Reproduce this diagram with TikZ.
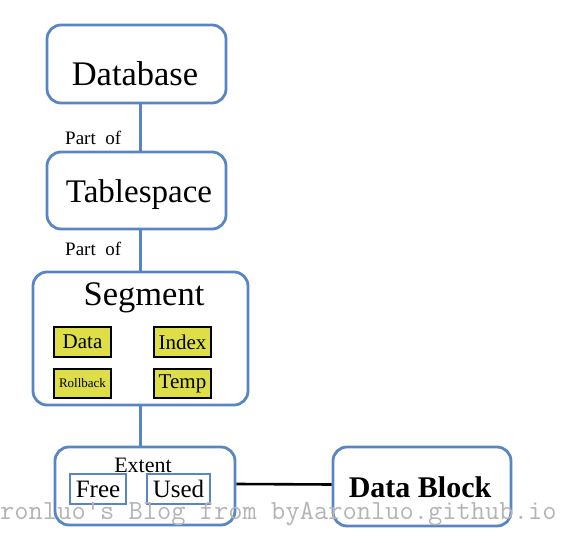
\documentclass[tikz,border=0pt]{standalone}
\usepackage{fontspec}
\setmainfont{Liberation Serif}
\usepackage{xcolor}
\usetikzlibrary{positioning,calc}
\definecolor{boxblue}{RGB}{88,134,196}
\definecolor{tagyellow}{RGB}{222,222,72}
\definecolor{markgray}{RGB}{180,180,180}
\newcommand{\fsz}[1]{\fontsize{#1}{#1}\selectfont}

\begin{document}
\begin{tikzpicture}[x=1pt,y=-1pt,
    box/.style={draw=boxblue, line width=2.8pt, rounded corners=14pt, inner sep=0pt},
    tag/.style={draw=black, fill=tagyellow, line width=2.2pt, inner sep=0pt, minimum width=57pt, minimum height=30pt},
    sub/.style={draw=boxblue, line width=2.8pt, inner sep=0pt, minimum height=30pt},
    link/.style={draw=boxblue, line width=2.4pt}]
    \useasboundingbox (0,0) rectangle (571,543);

    % main boxes
    \node[box, minimum width=179pt, minimum height=78pt] (db) at (136.5,64) {};
    \node[box, minimum width=179pt, minimum height=77pt] (ts) at (136.5,190.5) {};
    \node[box, minimum width=215pt, minimum height=133pt] (seg) at (140.5,338.5) {};
    \node[box, minimum width=180pt, minimum height=78pt] (ext) at (145,486) {};
    \node[box, minimum width=178pt, minimum height=79pt] (blk) at (422,486.5) {};

    % box titles
    \node[anchor=base, inner sep=0pt] (dbtxt) at (135,85) {\fsz{34.5}Database};
    \node[anchor=base, inner sep=0pt] (tstxt) at (139,202) {\fsz{33}Tablespace};
    \node[anchor=base, inner sep=0pt] (segtxt) at (144,305) {\fsz{34.5}Segment};
    \node[anchor=base, inner sep=0pt] (exttxt) at (143,472) {\fsz{22}Extent};
    \node[anchor=base, inner sep=0pt] (blktxt) at (420,497) {\fsz{30}\bfseries Data Block};

    % segment types
    \node[tag] (data) at (82.5,342) {\fsz{21}Data};
    \node[tag] (index) at (182.5,342) {\fsz{21}Index};
    \node[tag, minimum height=29pt] (roll) at (82.5,383.5) {\fsz{13}Rollback};
    \node[tag, minimum height=29pt] (temp) at (182.5,383.5) {\fsz{21}Temp};

    % extent parts
    \node[sub, minimum width=56pt] (free) at (98,489) {\fsz{25}Free};
    \node[sub, minimum width=63pt] (used) at (178.5,489) {\fsz{25}Used};

    % connectors
    \draw[link] (db.south -| seg.north) -- (ts.north -| seg.north);
    \draw[link] (ts.south -| seg.north) -- (seg.north);
    \draw[link] (seg.south) -- (seg.south |- ext.north);
    \draw[line width=2.6pt] ([yshift=2pt]ext.east) -- ([yshift=2pt]blk.west);

    \node[anchor=base west, inner sep=0pt] (part1) at (65,144) {\fsz{19}Part\ \ of};
    \node[anchor=base west, inner sep=0pt] (part2) at (65,255) {\fsz{19}Part\ \ of};

    % watermark
    \node[anchor=base west, inner sep=0pt, text=markgray] (mark) at (0,519) {\fsz{27.7}\ttfamily ronluo's Blog from  byAaronluo.github.io};
\end{tikzpicture}
\end{document}
